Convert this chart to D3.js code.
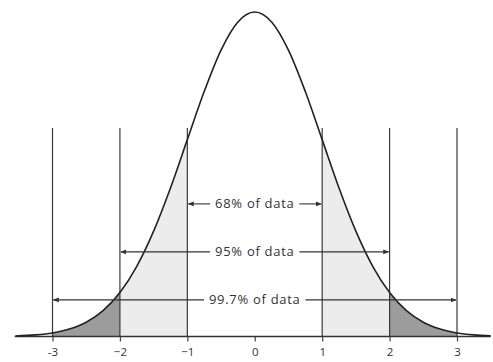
<!DOCTYPE html>
<html>
<head>
<meta charset="utf-8">
<script src="https://cdn.jsdelivr.net/npm/d3@7"></script>
<style>
  body { margin: 0; background: #fff; }
  text { font-family: "Open Sans", sans-serif; fill: #333; }
</style>
</head>
<body>
<div id="chart"></div>
<script>
// curve points (standard deviations vs. height)
const curveX = [-3.55, -3.25, -3, -2.75, -2.5, -2.25, -2, -1.75, -1.5, -1.25, -1, -0.75, -0.5, -0.25, 0,
                0.25, 0.5, 0.75, 1, 1.25, 1.5, 1.75, 2, 2.25, 2.5, 2.75, 3, 3.25, 3.5];
const curveY = [0.0007, 0.0020, 0.0044, 0.0091, 0.0175, 0.0317, 0.0540, 0.0863, 0.1295, 0.1826, 0.2420, 0.3011, 0.3521, 0.3867, 0.3989,
                0.3867, 0.3521, 0.3011, 0.2420, 0.1826, 0.1295, 0.0863, 0.0540, 0.0317, 0.0175, 0.0091, 0.0044, 0.0020, 0.0009];
const tickValues = [-3, -2, -1, 0, 1, 2, 3];
const tickLabels = ["-3", "\u22122", "\u22121", "0", "1", "2", "3"];
const rangeSd = [1, 2, 3];
const rangeLabels = ["68% of data", "95% of data", "99.7% of data"];
const rangeY = [0.163, 0.104, 0.045];   // height of each arrow, in density units

const width = 493, height = 362;

const svg = d3.select("#chart")
  .append("svg")
  .attr("width", width)
  .attr("height", height);

const x = d3.scaleLinear()
  .domain([-3, 3])
  .range([52.5, 457]);

const y = d3.scaleLinear()
  .domain([0, 0.3989])
  .range([336.5, 12]);

const pts = curveX.map((d, i) => ({x: d, y: curveY[i]}));

const area = d3.area()
  .x(d => x(d.x))
  .y0(y(0))
  .y1(d => y(d.y))
  .curve(d3.curveMonotoneX);

const line = d3.line()
  .x(d => x(d.x))
  .y(d => y(d.y))
  .curve(d3.curveMonotoneX);

// clip paths for the shaded bands
const defs = svg.append("defs");
function band(id, a, b) {
  defs.append("clipPath").attr("id", id)
    .selectAll("rect")
    .data([[a[0], a[1]], [b[0], b[1]]])
    .enter()
    .append("rect")
    .attr("x", d => x(d[0]))
    .attr("width", d => x(d[1]) - x(d[0]))
    .attr("y", 0)
    .attr("height", height);
}
band("light", [-2, -1], [1, 2]);
band("dark", [-3, -2], [2, 3]);

svg.append("path")
  .datum(pts)
  .attr("d", area)
  .attr("fill", "#ececec")
  .attr("clip-path", "url(#light)");

svg.append("path")
  .datum(pts)
  .attr("d", area)
  .attr("fill", "#9c9c9c")
  .attr("clip-path", "url(#dark)");

// vertical lines at each sd
svg.selectAll(".vline")
  .data(tickValues.filter(d => d !== 0))
  .enter()
  .append("line")
  .attr("class", "vline")
  .attr("x1", d => x(d))
  .attr("x2", d => x(d))
  .attr("y1", 128)
  .attr("y2", y(0))
  .attr("stroke", "#3a3a3a")
  .attr("stroke-width", 1.2);

// axis
const axis = svg.append("g")
  .attr("transform", `translate(0, ${y(0)})`)
  .call(d3.axisBottom(x).tickValues(tickValues).tickSize(5).tickFormat((d, i) => tickLabels[i]));
axis.select(".domain").remove();
axis.selectAll(".tick line").attr("stroke", "#444").attr("stroke-width", 1.2);
axis.selectAll(".tick text")
  .attr("y", 11)
  .style("font-family", "'Open Sans', sans-serif")
  .style("font-size", "11.5px")
  .attr("fill", "#444");

svg.append("line")
  .attr("x1", x(-3.56))
  .attr("x2", x(3.5))
  .attr("y1", y(0))
  .attr("y2", y(0))
  .attr("stroke", "#333")
  .attr("stroke-width", 1.4);

svg.append("path")
  .datum(pts)
  .attr("d", line)
  .attr("fill", "none")
  .attr("stroke", "#222")
  .attr("stroke-width", 1.6);

// arrow marker
defs.append("marker")
  .attr("id", "arrow")
  .attr("viewBox", "0 0 10 10")
  .attr("refX", 9)
  .attr("refY", 5)
  .attr("markerWidth", 6)
  .attr("markerHeight", 6)
  .attr("markerUnits", "userSpaceOnUse")
  .attr("orient", "auto")
  .append("path")
  .attr("d", "M0,1L10,5L0,9Z")
  .attr("fill", "#333");

// range arrows with labels
const ranges = svg.selectAll(".range")
  .data(rangeSd)
  .enter()
  .append("g")
  .attr("class", "range");

ranges.append("text")
  .attr("x", x(0))
  .attr("y", (d, i) => y(rangeY[i]))
  .attr("dy", "0.35em")
  .attr("text-anchor", "middle")
  .style("font-size", "13px")
  .style("letter-spacing", "0.7px")
  .text((d, i) => rangeLabels[i])
  .each(function(d, i) {
    const w = this.getComputedTextLength();
    const g = d3.select(this.parentNode);
    const yy = y(rangeY[i]);
    g.append("line")
      .attr("x1", x(0) - w / 2 - 5).attr("x2", x(-d) + 1)
      .attr("y1", yy).attr("y2", yy)
      .attr("stroke", "#333").attr("stroke-width", 1.1)
      .attr("marker-end", "url(#arrow)");
    g.append("line")
      .attr("x1", x(0) + w / 2 + 5).attr("x2", x(d) - 1)
      .attr("y1", yy).attr("y2", yy)
      .attr("stroke", "#333").attr("stroke-width", 1.1)
      .attr("marker-end", "url(#arrow)");
  });
</script>
</body>
</html>
